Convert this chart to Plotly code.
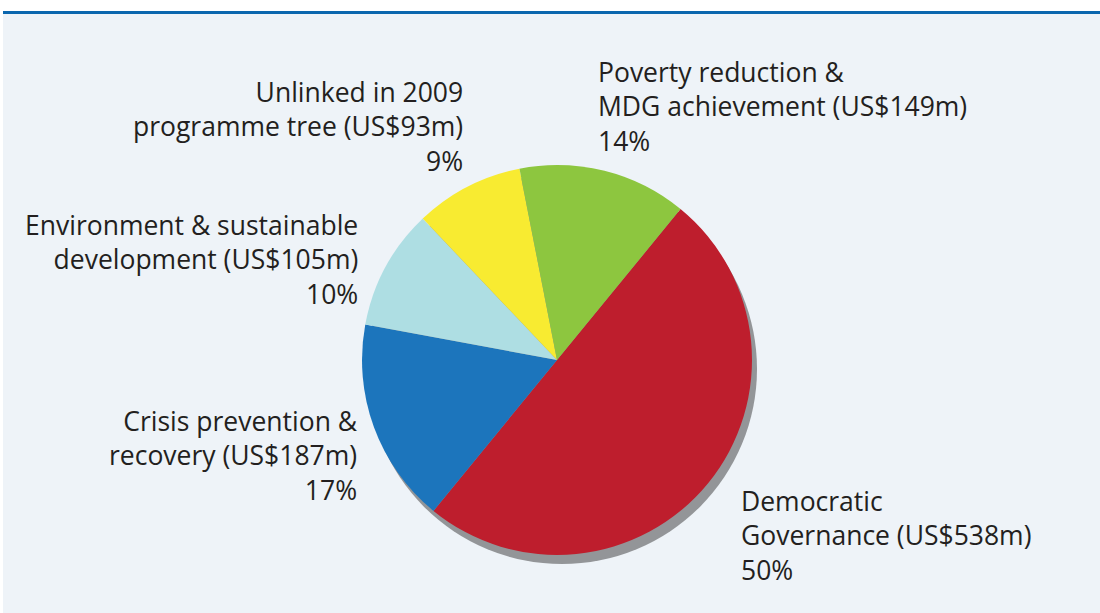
import plotly.graph_objects as go

categories = ["Democratic Governance", "Crisis prevention & recovery",
              "Environment & sustainable development", "Unlinked in 2009 programme tree",
              "Poverty reduction & MDG achievement"]
amounts_usd_m = [538, 187, 105, 93, 149]
percents = [50, 17, 10, 9, 14]
colors = ["#be1e2d", "#1c75bc", "#aedee3", "#f8eb31", "#8dc63f"]
label_texts = [
    "Democratic<br>Governance (US$538m)<br>50%",
    "Crisis prevention &<br>recovery (US$187m)<br>17%",
    "Environment & sustainable<br>development (US$105m)<br>10%",
    "Unlinked in 2009<br>programme tree (US$93m)<br>9%",
    "Poverty reduction &<br>MDG achievement (US$149m)<br>14%",
]

W, H = 1100, 613
cx, cy, r = 557, 360, 195
sdx, sdy = 5, 9

def dom(cx, cy):
    return dict(x=[(cx - r) / W, (cx + r) / W], y=[(H - cy - r) / H, (H - cy + r) / H])

fig = go.Figure()
# shadow
fig.add_trace(go.Pie(values=[1], marker=dict(colors=["#939598"], line=dict(width=0)),
                     textinfo="none", hoverinfo="skip", showlegend=False, sort=False,
                     domain=dom(cx + sdx, cy + sdy)))
fig.add_trace(go.Pie(labels=categories, values=percents, customdata=amounts_usd_m,
                     sort=False, direction="clockwise",
                     rotation=39.3, marker=dict(colors=colors, line=dict(width=0)),
                     textinfo="none", showlegend=False, domain=dom(cx, cy),
                     hovertemplate="%{label}<br>US$%{customdata}m<br>%{value}%<extra></extra>"))

# label positions (pixels): x, y of first line center, anchor
pos = [(741, 502, "left"), (358, 422, "right"), (358, 226, "right"),
       (463, 93, "right"), (598, 73, "left")]
for t, (x, y, a) in zip(label_texts, pos):
    xa = x - 2 if a == "left" else x + 2
    fig.add_annotation(x=xa / W, y=1 - (y - 21) / H, xref="paper", yref="paper",
                       text=t, showarrow=False, xanchor=a, yanchor="top", align=a,
                       font=dict(family="Open Sans", size=26.5, color="#231f20"))

fig.update_layout(
    width=W, height=H, margin=dict(l=0, r=0, t=0, b=0),
    paper_bgcolor="white", plot_bgcolor="white",
    shapes=[
        dict(type="rect", xref="paper", yref="paper", x0=3 / W, x1=1, y0=0, y1=1 - 14 / H,
             fillcolor="#eef3f8", line=dict(width=0), layer="below"),
        dict(type="rect", xref="paper", yref="paper", x0=3 / W, x1=1, y0=1 - 14 / H, y1=1 - 11 / H,
             fillcolor="#0a66ae", line=dict(width=0), layer="below"),
    ],
)
fig.write_html("out.html")
